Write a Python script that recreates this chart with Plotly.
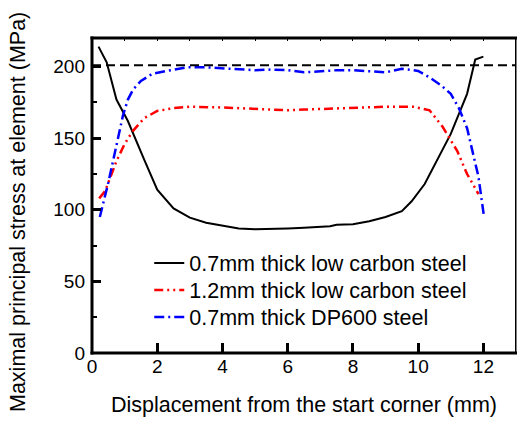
import plotly.graph_objects as go

# Data
black_x = [0.2, 0.45, 0.75, 1.1, 1.6, 2.0, 2.5, 3.0, 3.5, 4.0, 4.5, 5.0, 5.5, 6.0, 6.5, 7.0, 7.3, 7.5, 8.0, 8.5, 9.0, 9.5, 9.8, 10.2, 10.6, 11.0, 11.5, 11.75, 12.0]
black_y = [214, 203, 177, 162, 135, 114, 101, 94.5, 91, 89, 87, 86.5, 86.5, 87, 87.5, 88, 88.5, 89.5, 90, 92, 95, 99, 106, 118, 136, 153, 181, 205, 207]

red_x = [0.22, 0.4, 0.75, 1.0, 1.25, 1.6, 2.0, 2.5, 3.0, 3.5, 4.0, 4.5, 5.0, 5.5, 6.0, 6.5, 7.0, 7.5, 8.0, 8.5, 9.0, 9.5, 9.85, 10.35, 10.75, 11.2, 11.5, 11.85]
red_y = [108, 113, 134, 146, 155, 164, 169, 171, 172, 172, 171.5, 171, 170.5, 170, 169.5, 170, 170.5, 170.5, 171, 171.5, 172, 172, 172, 169.5, 158, 141, 125, 111]

blue_x = [0.24, 0.5, 0.75, 0.95, 1.1, 1.26, 1.5, 1.85, 2.3, 2.9, 3.5, 4.0, 4.5, 5.0, 5.5, 6.0, 6.5, 7.0, 7.5, 8.0, 8.5, 9.0, 9.5, 10.0, 10.35, 10.7, 11.0, 11.25, 11.5, 11.85, 12.02]
blue_y = [95, 119, 145, 166, 177, 184, 190, 195, 197, 199.5, 199.5, 199, 198.5, 197.5, 198, 197.5, 196, 197, 197.5, 197.5, 196.5, 196, 198.5, 197, 192.5, 187, 181, 171, 157, 123, 95]

ref_level = 201
x_range = [0, 13]
y_range = [0, 220]
x_ticks = [0, 2, 4, 6, 8, 10, 12]
y_ticks = [0, 50, 100, 150, 200]
y_minor = [25, 75, 125, 175]

names = ["0.7mm thick low carbon steel", "1.2mm thick low carbon steel", "0.7mm thick DP600 steel"]
x_title = "Displacement from the start corner (mm)"
y_title = "Maximal principal stress at element (MPa)"

FONT = "Liberation Sans, Arial, sans-serif"

fig = go.Figure()
fig.add_trace(go.Scatter(x=black_x, y=black_y, mode="lines", name=names[0], legend="legend",
                         line=dict(color="black", width=2)))
fig.add_trace(go.Scatter(x=red_x, y=red_y, mode="lines", name=names[1], legend="legend2",
                         line=dict(color="#ff0000", width=2.5, dash="9px,4px,2px,4px,2px,4px")))
fig.add_trace(go.Scatter(x=blue_x, y=blue_y, mode="lines", name=names[2], legend="legend3",
                         line=dict(color="#0000ff", width=2.5, dash="10px,4px,2px,4px")))
# dashed reference line
fig.add_trace(go.Scatter(x=x_range, y=[ref_level, ref_level], mode="lines", showlegend=False,
                         line=dict(color="black", width=2, dash="9px,5px"), xaxis="x2"))

leg_common = dict(xanchor="left", yanchor="middle", bgcolor="rgba(0,0,0,0)",
                  font=dict(size=21.5, family=FONT, color="black"), borderwidth=0)
LX = 0.135

fig.update_layout(
    width=517, height=423,
    margin=dict(l=92, r=1, t=38, b=70, autoexpand=False),
    paper_bgcolor="white", plot_bgcolor="white",
    font=dict(family=FONT, size=19, color="black"),
    showlegend=True,
    legend=dict(x=LX, y=(353 - 263) / 315, **leg_common),
    legend2=dict(x=LX, y=(353 - 290) / 315, **leg_common),
    legend3=dict(x=LX, y=(353 - 317) / 315, **leg_common),
    xaxis=dict(range=x_range, tickvals=x_ticks, ticks="inside", ticklen=10,
               tickwidth=3, tickcolor="black", showline=False,
               showgrid=False, zeroline=False, automargin=False,
               title=dict(text=x_title, font=dict(size=21.5), standoff=20)),
    xaxis2=dict(range=x_range, overlaying="x", side="top", dtick=1, tick0=0, ticks="inside",
                ticklen=3, tickwidth=1, tickcolor="black", showticklabels=False, showline=False,
                showgrid=False, zeroline=False),
    yaxis=dict(range=y_range, tickvals=y_ticks, ticks="inside", ticklen=9,
               tickwidth=3, tickcolor="black", showline=False,
               showgrid=False, zeroline=False, ticklabelstandoff=6, automargin=False,
               minor=dict(tickvals=y_minor, ticks="inside", ticklen=5, tickwidth=1.5, tickcolor="black")),
)
# y-axis title as rotated text, placed like the reference
fig.add_annotation(text=y_title, xref="paper", yref="paper", x=(18 - 92) / 424, y=(353 - 212) / 315,
                   textangle=-90, showarrow=False, font=dict(size=21.5, family=FONT, color="black"),
                   xanchor="center", yanchor="middle")
# plot frame as filled thin rectangles (in pixel-size units relative to paper)
W, H = 424.0, 315.0
def band(x0, x1, y0, y1):
    fig.add_shape(type="rect", xref="paper", yref="paper", x0=x0, x1=x1, y0=y0, y1=y1,
                  line=dict(width=0), fillcolor="#000000", layer="above")
band(-1.5 / W, 1.5 / W, -1.5 / H, 1 + 1.5 / H)     # left
band(-1.5 / W, 1 + 1.0 / W, -1.5 / H, 1.5 / H)     # bottom
band(-1.5 / W, 1 + 1.0 / W, 1 - 1.5 / H, 1 + 1.5 / H)  # top
band(1 - 1.0 / W, 1 + 0.5 / W, 0, 1)               # right (thin)

fig.write_html("out.html", config={"displayModeBar": False},
               post_script="document.body.style.margin='0';document.body.style.padding='0';")
